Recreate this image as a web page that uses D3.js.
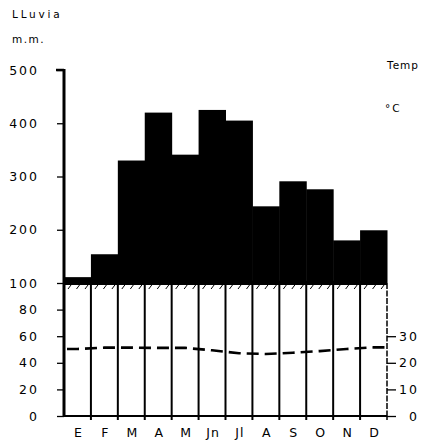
<!DOCTYPE html>
<html>
<head>
<meta charset="utf-8">
<script src="https://cdn.jsdelivr.net/npm/d3@7"></script>
<style>
  html, body { margin: 0; padding: 0; background: #fff; }
  svg text { font-family: "DejaVu Sans", sans-serif; fill: #000; }
</style>
</head>
<body>
<svg id="chart" width="427" height="440"></svg>
<script>
// Monthly climate data (Spanish month initials)
const months = ["E", "F", "M", "A", "M", "Jn", "Jl", "A", "S", "O", "N", "D"];
const rainfall = [111, 154, 330, 420, 341, 425, 405, 244, 291, 276, 180, 199];      // mm
const temperature = [25.2, 25.7, 25.7, 25.6, 25.6, 24.7, 23.6, 23.3, 23.8, 24.4, 25.2, 25.8]; // °C
const rainTicks = [0, 20, 40, 60, 80, 100, 200, 300, 400, 500];
const tempTicks = [0, 10, 20, 30];

const svg = d3.select("#chart");
const left = 64, right = 387, bottom = 416;

const x = d3.scaleBand().domain(d3.range(months.length)).range([left, right]).paddingInner(0).paddingOuter(0);
// Precipitation scale is compressed above 100 mm
const yR = d3.scaleLinear().domain([0, 100, 500]).range([bottom, 283, 70]);
// Temperature: 10 °C = 20 mm
const yT = d3.scaleLinear().domain([0, 50]).range([bottom, yR(100)]);

// Rain above 100 mm as solid black bars
svg.append("g").selectAll("rect").data(rainfall).join("rect")
  .attr("x", (d, i) => x(i))
  .attr("width", x.bandwidth() + 0.5)
  .attr("y", d => yR(d))
  .attr("height", d => yR(100) - yR(d))
  .attr("fill", "#000");

// Thick band at the 100 mm level
svg.append("line")
  .attr("x1", left).attr("x2", right)
  .attr("y1", yR(100)).attr("y2", yR(100))
  .attr("stroke", "#000").attr("stroke-width", 4);

// Short hatch strokes below the band
const hatch = svg.append("g").attr("stroke", "#000").attr("stroke-width", 1);
months.forEach((m, i) => {
  const x0 = x(i);
  for (let k = 0; k < 3; k++) {
    const hx = x0 + 4 + k * 8.5;
    hatch.append("line")
      .attr("x1", hx).attr("y1", yR(100) + 6)
      .attr("x2", hx + 3).attr("y2", yR(100) + 2);
  }
});

// Month separators in the lower panel
const seps = svg.append("g").attr("stroke", "#000").attr("stroke-width", 2);
for (let i = 1; i < months.length; i++) {
  seps.append("line")
    .attr("x1", x(i)).attr("x2", x(i))
    .attr("y1", yR(100)).attr("y2", bottom + 4);
}

// Right border of the lower panel
svg.append("line")
  .attr("x1", right).attr("x2", right)
  .attr("y1", yR(100)).attr("y2", bottom)
  .attr("stroke", "#000").attr("stroke-width", 1.5)
  .attr("stroke-dasharray", "6,1.5");

// Bottom axis line with end tick
svg.append("line")
  .attr("x1", left).attr("x2", right)
  .attr("y1", bottom).attr("y2", bottom)
  .attr("stroke", "#000").attr("stroke-width", 2);
svg.append("line")
  .attr("x1", right).attr("x2", right)
  .attr("y1", bottom).attr("y2", bottom + 4)
  .attr("stroke", "#000").attr("stroke-width", 1.5);

// Temperature curve through month centres, extended to both panel edges
const pts = [temperature[0]].concat(temperature).concat([temperature[temperature.length - 1]]);
svg.append("path")
  .attr("d", d3.line()
    .x((d, i) => i === 0 ? left + 3 : (i === pts.length - 1 ? right : x(i - 1) + x.bandwidth() / 2))
    .y(d => yT(d))(pts))
  .attr("fill", "none")
  .attr("stroke", "#000")
  .attr("stroke-width", 2.6)
  .attr("stroke-dasharray", "12,6");

// Left axis (precipitation)
const leftAxis = d3.axisLeft(yR).tickValues(rainTicks).tickSize(7).tickPadding(0).tickFormat(d => "");
const gl = svg.append("g").attr("transform", `translate(${left},0)`).call(leftAxis);
gl.select(".domain").remove();
gl.selectAll(".tick line").attr("stroke", "#000").attr("stroke-width", 1.3);
svg.append("line")
  .attr("x1", left).attr("x2", left)
  .attr("y1", yR(500) - 1).attr("y2", bottom + 1)
  .attr("stroke", "#000").attr("stroke-width", 3);
svg.append("line")
  .attr("x1", left - 8).attr("x2", left)
  .attr("y1", yR(500)).attr("y2", yR(500))
  .attr("stroke", "#000").attr("stroke-width", 2.5);

svg.append("g").selectAll("text").data(rainTicks).join("text")
  .attr("x", 39)
  .attr("y", d => yR(d) + 4.5)
  .attr("text-anchor", "end")
  .attr("font-size", 12.5)
  .attr("letter-spacing", 2)
  .text(d => d);

// Right axis (temperature)
const rightAxis = d3.axisRight(yT).tickValues(tempTicks).tickSize(9).tickFormat(d => "");
const gr = svg.append("g").attr("transform", `translate(${right},0)`).call(rightAxis);
gr.select(".domain").remove();
gr.selectAll(".tick line").attr("stroke", "#000").attr("stroke-width", 1.3);
svg.append("g").selectAll("text").data(tempTicks).join("text")
  .attr("x", 419)
  .attr("y", d => yT(d) + 4.5)
  .attr("text-anchor", "end")
  .attr("font-size", 12.5)
  .attr("letter-spacing", 2)
  .text(d => d);

// Month labels
svg.append("g").selectAll("text").data(months).join("text")
  .attr("x", (d, i) => x(i) + x.bandwidth() / 2 + 1)
  .attr("y", 437)
  .attr("text-anchor", "middle")
  .attr("font-size", 12.5)
  .attr("letter-spacing", 1)
  .text(d => d);

// Axis titles
svg.append("text").attr("x", 12).attr("y", 18).attr("font-size", 10.5).attr("letter-spacing", 2.8).text("LLuvia");
svg.append("text").attr("x", 12).attr("y", 43).attr("font-size", 10.5).attr("letter-spacing", 1.5).text("m.m.");
svg.append("text").attr("x", 387).attr("y", 69).attr("font-size", 10.5).attr("letter-spacing", 1).text("Temp");
svg.append("text").attr("x", 385).attr("y", 112).attr("font-size", 10.5).attr("letter-spacing", 2).text("°C");
</script>
</body>
</html>
